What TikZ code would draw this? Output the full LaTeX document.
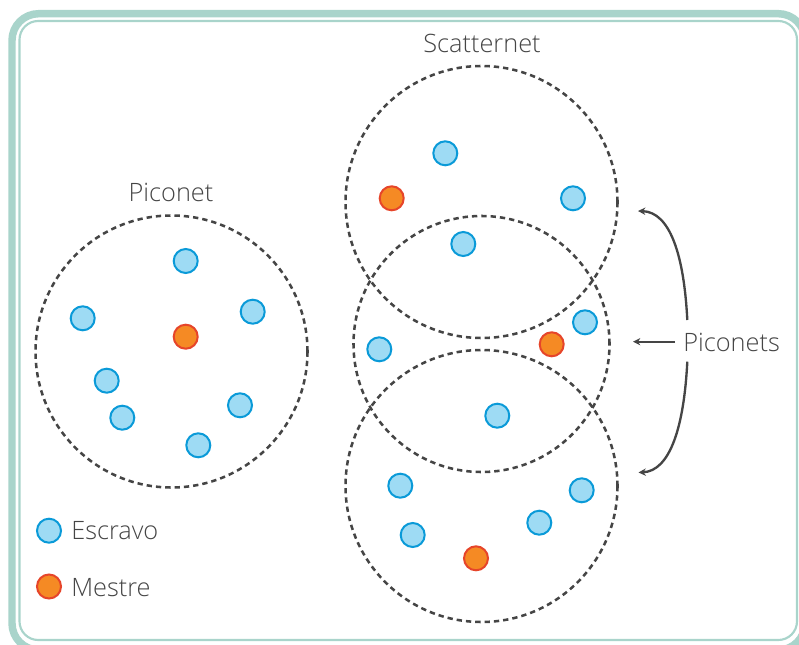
\documentclass[tikz,border=0pt]{standalone}
\usepackage{fontspec}
\setmainfont{Open Sans Light}
\usetikzlibrary{arrows.meta}
\definecolor{frame}{HTML}{A9D4CB}
\definecolor{ink}{HTML}{454545}
\definecolor{slavefill}{HTML}{9EDBF4}
\definecolor{slaveline}{HTML}{0A9AD8}
\definecolor{masterfill}{HTML}{F58A24}
\definecolor{masterline}{HTML}{E6452A}
\tikzset{
  slave/.style={circle, minimum size=18pt, inner sep=0pt, line width=1.5pt, draw=slaveline, fill=slavefill},
  master/.style={circle, minimum size=18pt, inner sep=0pt, line width=1.5pt, draw=masterline, fill=masterfill},
  net/.style={draw=ink, line width=1.9pt, dash pattern=on 4pt off 3pt},
  lbl/.style={font=\fontsize{19}{22}\selectfont, text=ink, inner sep=0pt, anchor=base},
  pointer/.style={draw=ink, line width=1.75pt, -{Stealth[length=5.5pt,width=5.5pt]}},
}
\begin{document}
\begin{tikzpicture}[x=0.75pt, y=-0.75pt]
\useasboundingbox (0,0) rectangle (799,645);
% frame
\draw[frame, line width=5.6pt, rounded corners=20pt] (12,13.7) rectangle (805,650);
\draw[frame, line width=1.6pt, rounded corners=14pt] (19.5,21) rectangle (797,640);

% network circles
\draw[net] (171.5,351.5) circle[radius=102pt];
\draw[net] (481.5,202) circle[radius=102pt];
\draw[net] (481.5,344) circle[radius=96pt];
\draw[net] (481.5,486) circle[radius=102pt];

% labels
\node[lbl] (piconet) at (171,202) {Piconet};
\node[lbl] (scatternet) at (482,53) {Scatternet};
\node[lbl, anchor=base west] (piconets) at (683,351) {Piconets};

% left piconet
\node[slave] (l1) at (185.7,261) {};
\node[slave] (l2) at (82.7,318.3) {};
\node[slave] (l3) at (252.7,311.7) {};
\node[master] (lm) at (185.7,336.7) {};
\node[slave] (l4) at (106.7,380.7) {};
\node[slave] (l5) at (122.3,417.7) {};
\node[slave] (l6) at (240,405.3) {};
\node[slave] (l7) at (198.3,445.3) {};

% scatternet
\node[slave] (s1) at (445.3,153.3) {};
\node[master] (sm1) at (391.7,198.3) {};
\node[slave] (s2) at (573,198.3) {};
\node[slave] (s3) at (463.3,244) {};
\node[slave] (s4) at (585,322.3) {};
\node[master] (sm2) at (551.7,344.3) {};
\node[slave] (s5) at (379.3,349.3) {};
\node[slave] (s6) at (497.3,415.7) {};
\node[slave] (s7) at (400.3,485.7) {};
\node[slave] (s8) at (581.7,490.3) {};
\node[slave] (s9) at (539.3,522.7) {};
\node[slave] (s10) at (412.7,535) {};
\node[master] (sm3) at (476,558.3) {};

% pointers
\coordinate (topEnd) at (638,211);
\coordinate (midEnd) at (633,341.7);
\coordinate (botEnd) at (638.5,472.5);
\coordinate (topStart) at (687.3,320);
\coordinate (botStart) at (687.3,361.7);
\coordinate (midStart) at (675,341.7);
\draw[pointer] (topStart) .. controls (684,255) and (670,212) .. (topEnd);
\draw[pointer] (midStart) -- (midEnd);
\draw[pointer] (botStart) .. controls (684,427) and (670,471) .. (botEnd);

% legend
\node[slave] (legS) at (49,530.7) {};
\node[lbl, anchor=base west] (legSt) at (71,539) {Escravo};
\node[master] (legM) at (49,586.5) {};
\node[lbl, anchor=base west] (legMt) at (71,596.5) {Mestre};
\end{tikzpicture}
\end{document}
